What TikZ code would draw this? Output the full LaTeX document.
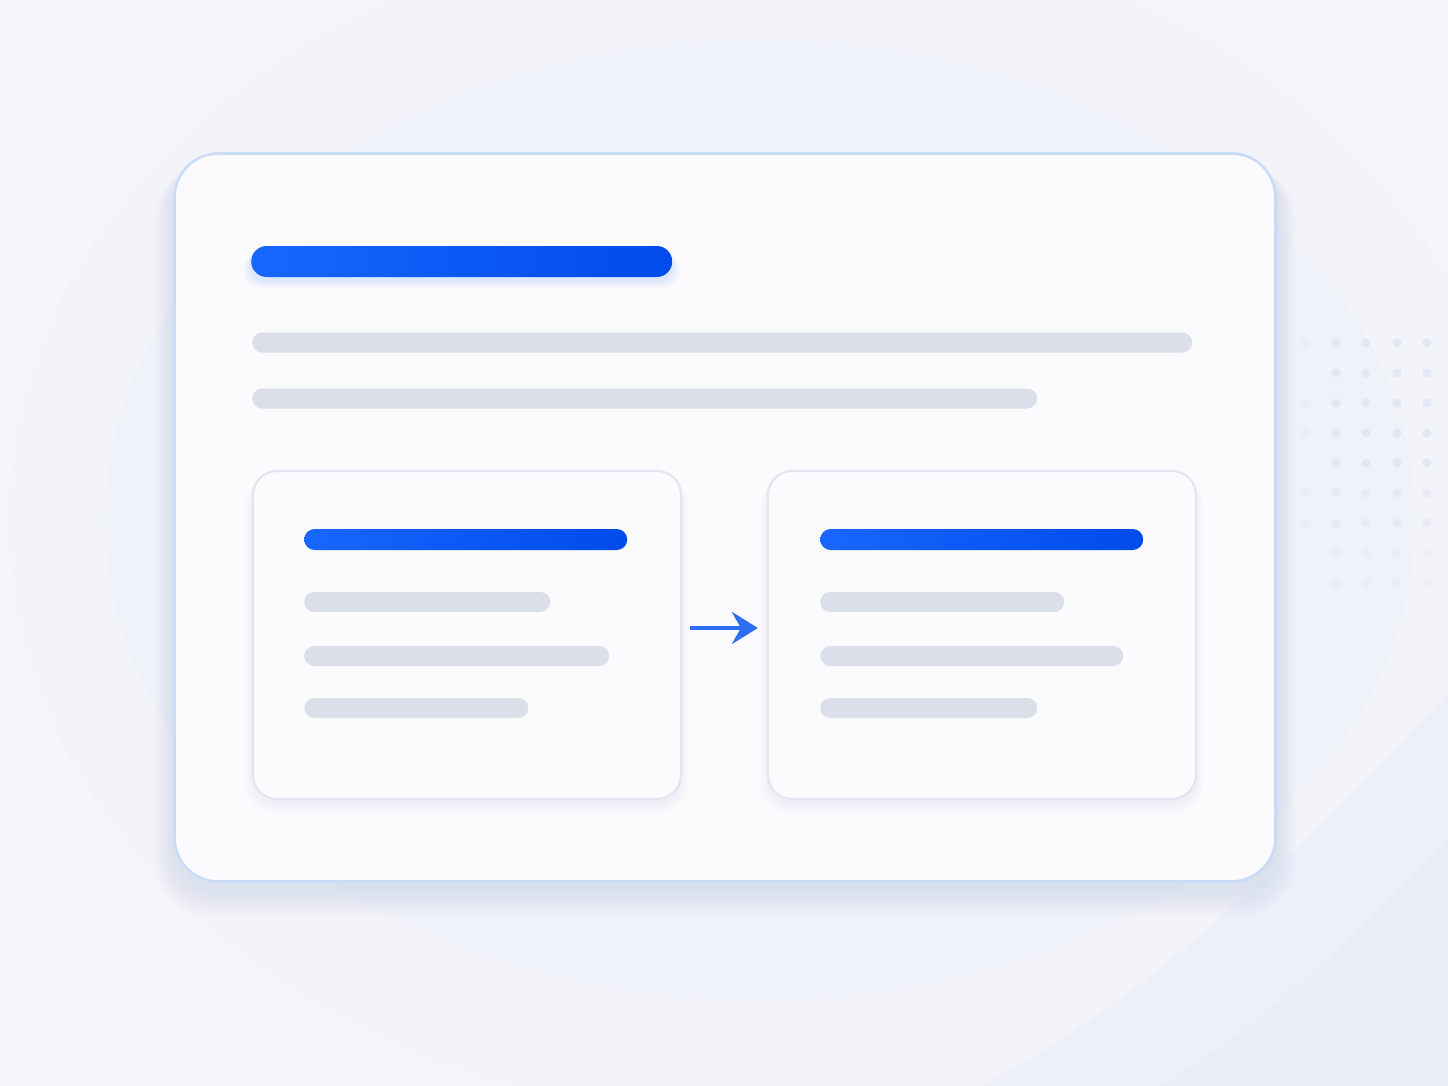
\documentclass[tikz,border=0pt]{standalone}
\usetikzlibrary{arrows.meta}
\definecolor{bgbase}{HTML}{F5F6FA}
\definecolor{bgarc}{HTML}{F0F2F9}
\definecolor{bgarcb}{HTML}{F3F4F9}
\definecolor{bgcorner}{HTML}{EDF0F9}
\definecolor{bgcornerb}{HTML}{E9EDF8}
\definecolor{cardfill}{HTML}{FBFBFD}
\definecolor{cardedge}{HTML}{C9DBF7}
\definecolor{subedge}{HTML}{E2E6EF}
\definecolor{grayline}{HTML}{DADFEA}
\definecolor{blueL}{HTML}{1767FF}
\definecolor{blueR}{HTML}{004BEA}
\definecolor{arrowblue}{HTML}{2E6EF2}
\definecolor{shadowc}{HTML}{9AA8CC}
\definecolor{dotc}{HTML}{E2E7F4}
\tikzset{
  maincard/.style={draw=cardedge, line width=2.6pt, fill=cardfill, rounded corners=44pt, inner sep=0pt, minimum width=1101pt, minimum height=728pt},
  subcard/.style={draw=subedge, line width=2.2pt, fill=cardfill, rounded corners=24pt, inner sep=0pt, minimum width=428pt, minimum height=328pt},
  bluebar/.style={rounded corners=#1, inner sep=0pt, left color=blueL, right color=blueR, anchor=west},
  graybar/.style={fill=grayline, rounded corners=10pt, inner sep=0pt, minimum height=20pt, anchor=west},
  flow/.style={draw=arrowblue, line width=4pt, -{Stealth[length=26pt, width=32pt, inset=9pt]}},
  bgdot/.style={fill=dotc, circle, inner sep=0pt, minimum size=9pt}
}
\begin{document}
\begin{tikzpicture}[x=1pt,y=-1pt]
\useasboundingbox (0,0) rectangle (1448,1086);
% background
\fill[bgbase] (0,0) rectangle (1448,1086);
\begin{scope}
\clip (0,0) rectangle (1448,1086);
\fill[bgarcb] (760,520) ellipse [x radius=752, y radius=600];
\fill[bgarc] (760,520) ellipse [x radius=655, y radius=480];
\fill[bgcorner] (1448,693) .. controls (1300,850) and (1150,1000) .. (980,1086) -- (1448,1086) -- cycle;
\fill[bgcornerb] (1448,840) .. controls (1350,940) and (1260,1030) .. (1159,1086) -- (1448,1086) -- cycle;
\end{scope}
% dot grid
\foreach \r [count=\k] in {343,373,403,433,463,493,523,553,583} {
  \pgfmathsetmacro{\op}{\k<6 ? 1 : (\k<8 ? 0.7 : 0.45)}
  \foreach \c in {1336,1366,1397,1427} {
    \node[bgdot, opacity=\op] (d\c-\k) at (\c,\r) {};
  }
}
\foreach \r [count=\k] in {343,403,433,493,523} {
  \node[bgdot, opacity=0.45] (e\k) at (1305,\r) {};
}
% main card shadow
\foreach \i in {1,...,12} {
  \fill[shadowc, opacity=0.016, rounded corners=50pt]
    (173-\i*1.5, 160+\i*0.6) rectangle (1277+\i*1.5, 890+\i*2.2);
}
\node[maincard] (main) at (725,517.5) {};
% title bar
\foreach \i in {1,...,5} {
  \fill[blueL, opacity=0.025, rounded corners=16pt] (251-\i*1.5, 250+\i*0.5) rectangle (672+\i*1.5, 280+\i*1.6);
}
\node[bluebar=15.5pt, minimum width=421pt, minimum height=31pt] (title) at (251,261.5) {};
\node[graybar, minimum width=940pt] (l1) at (252,342.5) {};
\node[graybar, minimum width=785pt] (l2) at (252,398.5) {};
% sub cards shadows
\foreach \x in {467,982} {
  \foreach \i in {1,...,6} {
    \fill[shadowc, opacity=0.02, rounded corners=28pt]
      (\x-214-\i*1.2, 474+\i*0.5) rectangle (\x+214+\i*1.2, 804+\i*1.5);
  }
}
\node[subcard] (left) at (467,635) {};
\node[subcard] (right) at (982,635) {};
% left card content
\node[bluebar=10.5pt, minimum width=323pt, minimum height=21pt] (lt) at (304,539.5) {};
\node[graybar, minimum width=246pt] (la) at (304,602) {};
\node[graybar, minimum width=305pt] (lb) at (304,656) {};
\node[graybar, minimum width=224pt] (lc) at (304,708) {};
% right card content
\node[bluebar=10.5pt, minimum width=323pt, minimum height=21pt] (rt) at (820,539.5) {};
\node[graybar, minimum width=244pt] (ra) at (820,602) {};
\node[graybar, minimum width=303pt] (rb) at (820,656) {};
\node[graybar, minimum width=217pt] (rc) at (820,708) {};
% arrow
\draw[flow, shorten <=8pt, shorten >=9pt] ([yshift=7pt]left.east) -- ([yshift=7pt]right.west);
\end{tikzpicture}
\end{document}
